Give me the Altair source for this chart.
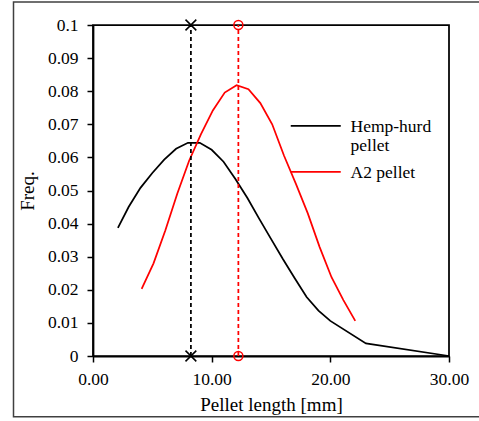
import altair as alt
import pandas as pd

# ---- data ----
hemp_x = [2.1, 3, 4, 5, 6, 7, 8, 9, 10, 11, 12, 13, 14, 15, 16, 17, 18, 19, 20, 23, 30]
hemp_y = [0.0387, 0.0450, 0.0508, 0.0553, 0.0593, 0.0626, 0.0644, 0.0644, 0.0623, 0.0587,
          0.0535, 0.0478, 0.0415, 0.0354, 0.0293, 0.0235, 0.0178, 0.0137, 0.0106, 0.0038, 0.0]
a2_x = [4.1, 5.1, 6.1, 7.1, 8.1, 9.1, 10.1, 11.1, 12.1, 13.1, 14.1, 15.1, 16.1, 17.1,
        18.1, 19.1, 20.1, 21.1, 22.1]
a2_y = [0.0203, 0.0280, 0.0380, 0.0490, 0.0590, 0.0670, 0.0742, 0.0796, 0.0818, 0.0806,
        0.0764, 0.0700, 0.0605, 0.0520, 0.0431, 0.0329, 0.0238, 0.0169, 0.0106]
series = ["Hemp-hurd pellet", "A2 pellet"]
colors = ["black", "red"]
mode_x = [8.25, 12.25]
mode_y = [0.0, 0.1]
x_ticks = [0, 10, 20, 30]
y_ticks = [0, 0.01, 0.02, 0.03, 0.04, 0.05, 0.06, 0.07, 0.08, 0.09, 0.1]

curves = pd.concat([
    pd.DataFrame({"series": series[0], "x": hemp_x, "y": hemp_y}),
    pd.DataFrame({"series": series[1], "x": a2_x, "y": a2_y}),
])
modes = pd.DataFrame([
    {"series": s, "x": mx, "y": my} for s, mx in zip(series, mode_x) for my in mode_y
])

FONT = "Liberation Serif"
x_path = "M-1.2,-1.2L1.2,1.2M-1.2,1.2L1.2,-1.2"

common_axis = dict(
    grid=False, domainColor="black", domainWidth=1.75, tickColor="black", tickWidth=1.5,
    tickSize=6, labelFont=FONT, labelFontSize=17.5, labelColor="black",
    labelFlush=False, labelOverlap=False,
    titleFont=FONT, titleFontSize=19, titleFontWeight="normal", titleColor="black",
)

color_scale = alt.Scale(domain=series, range=colors)
x_enc = alt.X("x:Q", scale=alt.Scale(domain=[0, 30], nice=False),
              axis=alt.Axis(values=x_ticks, format=".2f", title="Pellet length [mm]",
                            labelPadding=8, titlePadding=8, **common_axis))
y_enc = alt.Y("y:Q", scale=alt.Scale(domain=[0, 0.1], nice=False),
              axis=alt.Axis(values=y_ticks, labelExpr="format(datum.value, '.2~f')",
                            title="Freq.", labelPadding=9, titlePadding=10, **common_axis))

lines = alt.Chart(curves).mark_line(strokeWidth=1.75).encode(
    x=x_enc, y=y_enc,
    color=alt.Color("series:N", scale=color_scale, legend=alt.Legend(
        orient="none", legendX=214, legendY=84, title=None, padding=0,
        symbolType="M-5,1.6L5,1.6", symbolSize=100, symbolStrokeWidth=1.75,
        labelFont=FONT, labelFontSize=17.5, labelColor="black", labelBaseline="top",
        labelOffset=26, rowPadding=-8,
        labelExpr="datum.label == 'Hemp-hurd pellet' ? ['Hemp-hurd', 'pellet'] : datum.label",
    )),
    detail="series:N",
)

layers = [lines]
for s, c in zip(series, colors):
    layers.append(
        alt.Chart(modes).transform_filter(alt.datum.series == s)
        .mark_line(strokeWidth=1.75, strokeDash=[4, 3], color=c)
        .encode(x=x_enc, y=y_enc)
    )
layers.append(
    alt.Chart(modes).transform_filter(alt.datum.series == series[0])
    .mark_point(filled=False, strokeWidth=1.5, size=81, opacity=1, color=colors[0], shape=x_path)
    .encode(x=x_enc, y=y_enc)
)
layers.append(
    alt.Chart(modes).transform_filter(alt.datum.series == series[1])
    .mark_point(filled=False, strokeWidth=1.5, size=81, opacity=1, color=colors[1], shape="circle")
    .encode(x=x_enc, y=y_enc)
)

frame = alt.Chart(pd.DataFrame({"a": [0]})).mark_rect(
    fill="transparent", stroke="#404040", strokeWidth=1.5
).encode(x=alt.value(-79.5), x2=alt.value(420), y=alt.value(-23), y2=alt.value(391.7))

chart = alt.layer(frame, *layers).properties(
    width=356, height=331,
    autosize=alt.AutoSizeParams(type="none"),
    padding={"left": 93, "top": 25, "right": 30, "bottom": 65},
).configure_view(
    stroke="black", strokeWidth=1.75
)

chart.save("out.html", embed_options={"renderer": "svg", "actions": False})
